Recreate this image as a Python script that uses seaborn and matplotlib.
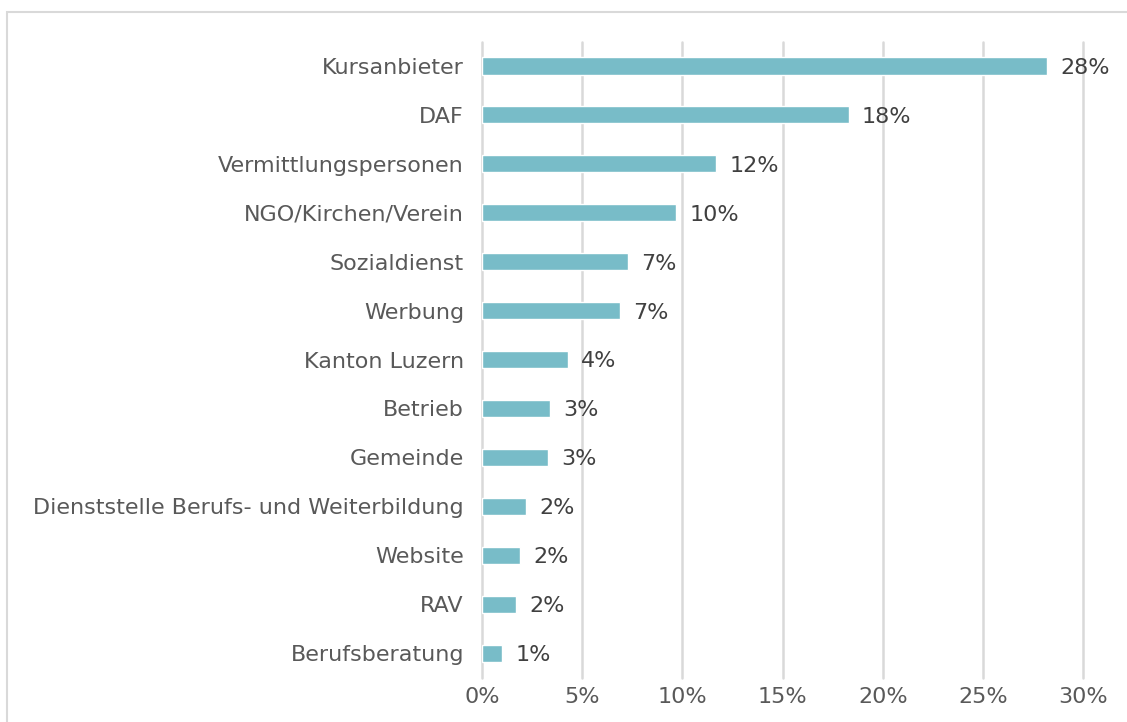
import matplotlib
matplotlib.use("Agg")
import matplotlib.pyplot as plt
import matplotlib.patches as mpatches
import seaborn as sns
import pandas as pd

# Data (share in percent)
categories = [
    "Kursanbieter", "DAF", "Vermittlungspersonen", "NGO/Kirchen/Verein",
    "Sozialdienst", "Werbung", "Kanton Luzern", "Betrieb", "Gemeinde",
    "Dienststelle Berufs- und Weiterbildung", "Website", "RAV", "Berufsberatung",
]
values = [28.2, 18.3, 11.7, 9.7, 7.3, 6.9, 4.3, 3.4, 3.3, 2.2, 1.9, 1.7, 1.0]
xticks = [0, 5, 10, 15, 20, 25, 30]
xtick_labels = ["0%", "5%", "10%", "15%", "20%", "25%", "30%"]

BAR_COLOR = "#78bcc8"
TICK_COLOR = "#595959"
LABEL_COLOR = "#404040"
GRID_COLOR = "#d9d9d9"


def main():
    sns.set_style("white")
    plt.rcParams["font.family"] = ["DejaVu Sans"]

    df = pd.DataFrame({"category": categories, "value": values})

    fig = plt.figure(figsize=(11.27, 7.22), dpi=100)
    ax = fig.add_axes([0.4277, 0.0616, 0.5333, 0.8809])

    sns.barplot(data=df, x="value", y="category", color=BAR_COLOR,
                saturation=1, width=0.35, ax=ax, zorder=3)

    ax.set_xlim(0, 30)
    ax.set_ylim(len(categories) - 0.5, -0.5)
    ax.set_xticks(xticks)
    ax.set_xticklabels(xtick_labels)
    ax.set_xlabel("")
    ax.set_ylabel("")

    for x in xticks:
        ax.axvline(x, color=GRID_COLOR, linewidth=1.8, zorder=1, clip_on=False)

    for s in ax.spines.values():
        s.set_visible(False)
    ax.tick_params(axis="both", length=0, labelsize=16, colors=TICK_COLOR)
    ax.tick_params(axis="y", pad=13)
    ax.tick_params(axis="x", pad=7)

    # value labels
    for i, v in enumerate(values):
        ax.text(v + 0.65, i + 0.04, f"{round(v):.0f}%", va="center", ha="left",
                fontsize=16, color=LABEL_COLOR)

    # light frame around the chart area
    frame = mpatches.Rectangle((7 / 1127, -0.1), 1.2, 1 - 12 / 722 + 0.1,
                               transform=fig.transFigure, fill=False,
                               edgecolor=GRID_COLOR, linewidth=1.5)
    fig.patches.append(frame)

    fig.savefig("out.png", dpi=100, facecolor="white")
    plt.close(fig)


if __name__ == "__main__":
    main()
